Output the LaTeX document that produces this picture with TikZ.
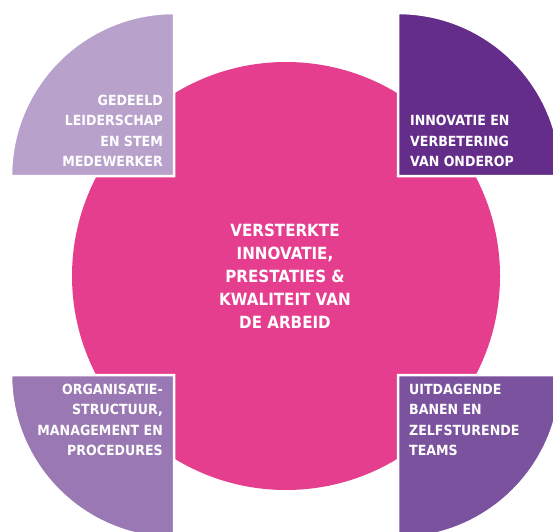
\documentclass[tikz,border=0pt]{standalone}
\usepackage{fontspec}
\setmainfont{DejaVu Sans Bold}[FakeStretch=0.9]
\definecolor{cPink}{HTML}{E63E8F}
\definecolor{cTL}{HTML}{B8A2CC}
\definecolor{cTR}{HTML}{652D8A}
\definecolor{cBL}{HTML}{9A78B3}
\definecolor{cBR}{HTML}{7B529E}
\tikzset{
  quarter/.style={draw=white, line width=2.5pt},
  small/.style={text=white, inner sep=0pt, font={\fontsize{14}{20.5}\selectfont}},
  big/.style={text=white, inner sep=0pt, align=center, font={\fontsize{16.8}{23}\selectfont}}
}
\begin{document}
\begin{tikzpicture}[x=1pt,y=1pt]
\useasboundingbox (0,0) rectangle (553,531);
\clip (0,0) rectangle (553,531);
\fill[cPink] (286,255) circle[radius=214];
\path[quarter, fill=cTL] (174,355) -- (11,355) arc[start angle=180, end angle=90, radius=163] -- cycle;
\path[quarter, fill=cTR] (398,355) -- (398,518) arc[start angle=90, end angle=0, radius=163] -- cycle;
\path[quarter, fill=cBL] (174,156) -- (11,156) arc[start angle=180, end angle=270, radius=163] -- cycle;
\path[quarter, fill=cBR] (398,156) -- (561,156) arc[start angle=0, end angle=-90, radius=163] -- cycle;
\node[small, align=right, anchor=south east] (tl) at (163,364) {GEDEELD\\LEIDERSCHAP\\EN STEM\\MEDEWERKER};
\node[small, align=left, anchor=south west] (tr) at (410,364) {INNOVATIE EN\\VERBETERING\\VAN ONDEROP};
\node[small, align=right, anchor=south east] (bl) at (163,75) {ORGANISATIE-\\STRUCTUUR,\\MANAGEMENT EN\\PROCEDURES};
\node[small, align=left, anchor=south west] (br) at (409,75) {UITDAGENDE\\BANEN EN\\ZELFSTURENDE\\TEAMS};
\node[big, anchor=south] (c) at (285,202) {VERSTERKTE\\INNOVATIE,\\PRESTATIES \&\\KWALITEIT VAN\\DE ARBEID};
\end{tikzpicture}
\end{document}
